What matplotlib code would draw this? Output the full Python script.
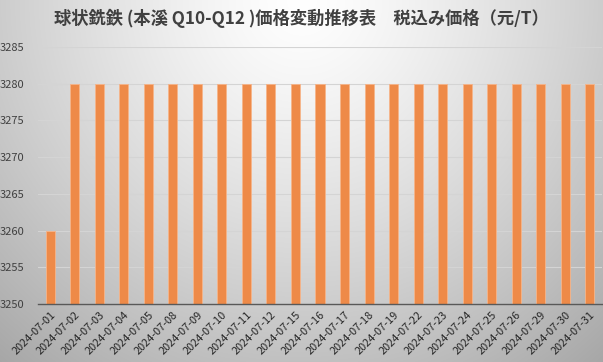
import numpy as np
import matplotlib
matplotlib.use("Agg")
from matplotlib import pyplot as plt

plt.rcParams["font.family"] = ["Noto Sans CJK JP", "DejaVu Sans"]

# Data
dates = [
    "2024-07-01", "2024-07-02", "2024-07-03", "2024-07-04", "2024-07-05",
    "2024-07-08", "2024-07-09", "2024-07-10", "2024-07-11", "2024-07-12",
    "2024-07-15", "2024-07-16", "2024-07-17", "2024-07-18", "2024-07-19",
    "2024-07-22", "2024-07-23", "2024-07-24", "2024-07-25", "2024-07-26",
    "2024-07-29", "2024-07-30", "2024-07-31",
]
prices = [3260] + [3280] * 22
title = "球状銑鉄 (本溪 Q10-Q12 )価格変動推移表　税込み価格（元/T）"

W, H = 603, 362
fig = plt.figure(figsize=(W / 100, H / 100), dpi=100)

# radial gradient background (white at top centre, grey towards corners)
bg = fig.add_axes([0, 0, 1, 1], zorder=-10)
yy, xx = np.mgrid[0:H, 0:W]
r = np.sqrt(((xx - W / 2) / (W * 0.62)) ** 2 + (yy / (H * 1.05)) ** 2)
shade = 1.0 - 0.26 * np.clip(r, 0, 1.3) ** 1.3
bg.imshow(np.dstack([shade] * 3), aspect="auto", extent=[0, 1, 0, 1])
bg.set_axis_off()

ax = fig.add_axes([38 / W, 1 - 304 / H, 564 / W, 257 / H])
ax.patch.set_alpha(0)

x = np.arange(len(dates))
ax.bar(x, prices, width=0.37, color="#EE8A48", edgecolor="#F6B58A",
       linewidth=0.6, zorder=3)

ax.set_ylim(3250, 3285)
ax.set_yticks(np.arange(3250, 3286, 5))
ax.set_xlim(-0.5, len(dates) - 0.5)
ax.set_xticks(x)
ax.set_xticklabels(dates, rotation=45, ha="right", rotation_mode="anchor",
                   fontsize=7.9, color="#262626")
ax.tick_params(axis="y", labelsize=8, labelcolor="#404040", length=0, pad=10)
ax.tick_params(axis="x", length=0, pad=4)
ax.grid(axis="y", color="#D4D4D4", linewidth=0.8, zorder=0)
for side in ["top", "right", "left"]:
    ax.spines[side].set_visible(False)
ax.spines["bottom"].set_color("#595959")
ax.spines["bottom"].set_linewidth(1.0)
ax.spines["bottom"].set_zorder(4)

fig.text(0.5, 1 - 18 / H, title, ha="center", va="center", fontsize=12.4,
         fontweight="bold", color="#404040")

fig.savefig("out.png", dpi=100)
